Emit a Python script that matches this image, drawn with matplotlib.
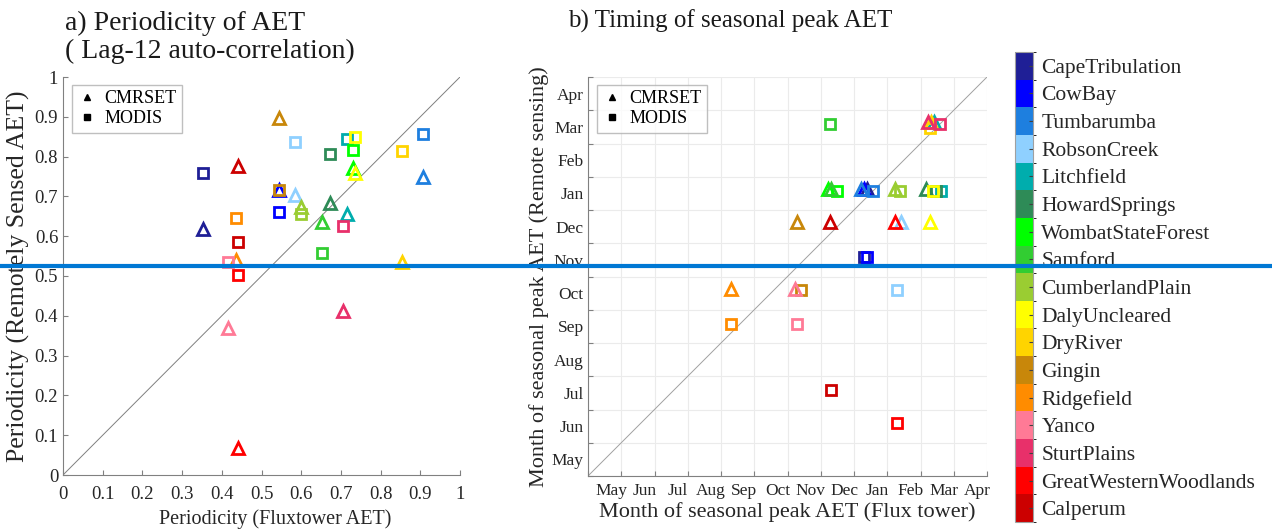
import matplotlib
matplotlib.use('Agg')
import matplotlib.pyplot as plt
import numpy as np
from matplotlib.colors import ListedColormap, BoundaryNorm
from matplotlib.cm import ScalarMappable
from matplotlib.lines import Line2D

plt.rcParams['font.family'] = ['Liberation Serif', 'DejaVu Serif']

sites = ['CapeTribulation', 'CowBay', 'Tumbarumba', 'RobsonCreek', 'Litchfield',
         'HowardSprings', 'WombatStateForest', 'Samford', 'CumberlandPlain',
         'DalyUncleared', 'DryRiver', 'Gingin', 'Ridgefield', 'Yanco',
         'SturtPlains', 'GreatWesternWoodlands', 'Calperum']
colors = ['#1f1f96', '#0000ff', '#1e7fdf', '#8fd0ff', '#00adad',
          '#2e8b57', '#00ff00', '#32cd32', '#9acd32',
          '#ffff00', '#ffd400', '#c8870a', '#ff8c00', '#ff7a96',
          '#e8306a', '#ff0000', '#cc0000']

# a) lag-12 autocorrelation
per_flux = [0.352, 0.544, 0.908, 0.584, 0.716, 0.673, 0.731, 0.653, 0.599,
            0.735, 0.855, 0.545, 0.437, 0.415, 0.706, 0.442, 0.442]
per_cmrset = [0.617, 0.716, 0.748, 0.704, 0.656, 0.684, 0.772, 0.636, 0.674,
              0.758, 0.536, 0.896, 0.540, 0.370, 0.413, 0.067, 0.776]
per_modis = [0.760, 0.660, 0.857, 0.837, 0.843, 0.807, 0.817, 0.559, 0.655,
             0.848, 0.814, 0.716, 0.646, 0.536, 0.626, 0.502, 0.586]

# b) month of seasonal peak (0 = start of May)
peak_flux_cmrset = [8.38, 8.30, 8.20, 9.40, 10.42, 10.18, 7.22, 7.32, 9.23,
                    10.29, 10.32, 6.28, 4.30, 6.23, 10.24, 9.23, 7.28]
peak_cmrset = [8.62, 8.62, 8.62, 7.63, 10.66, 8.62, 8.62, 8.62, 8.62,
               7.63, 10.66, 7.63, 5.62, 5.62, 10.66, 7.63, 7.63]
peak_flux_modis = [8.30, 8.40, 8.57, 9.28, 10.62, 10.48, 7.48, 7.28, 9.38,
                   10.38, 10.28, 6.40, 4.30, 6.28, 10.58, 9.28, 7.30]
peak_modis = [6.58, 6.58, 8.58, 5.58, 8.58, 8.58, 8.58, 10.60, 8.58,
              8.58, 10.47, 5.58, 4.58, 4.58, 10.60, 1.58, 2.58]

months = ['May', 'Jun', 'Jul', 'Aug', 'Sep', 'Oct', 'Nov', 'Dec',
          'Jan', 'Feb', 'Mar', 'Apr']

W, H = 1272, 532
fig = plt.figure(figsize=(W / 100, H / 100), dpi=100)


def style_axes(ax):
    for s in ['top', 'right']:
        ax.spines[s].set_visible(False)
    for s in ['left', 'bottom']:
        ax.spines[s].set_color('#808080')
        ax.spines[s].set_linewidth(0.8)
    ax.tick_params(direction='in', color='#808080', labelcolor='#262626', labelsize=13.5)


def add_legend(ax):
    h = [Line2D([], [], ls='none', marker='^', color='k', markersize=5),
         Line2D([], [], ls='none', marker='s', color='k', markersize=4)]
    lg = ax.legend(h, ['CMRSET', 'MODIS'], loc='upper left', fontsize=13,
                   frameon=True, fancybox=False, edgecolor='#b0b0b0',
                   handlelength=1.0, handletextpad=0.5, borderpad=0.3,
                   labelspacing=0.15, borderaxespad=0,
                   bbox_to_anchor=(0.023, 0.98))
    lg.get_frame().set_linewidth(1.0)


# ---- panel a
ax1 = fig.add_axes([63 / W, 1 - 475 / H, 397 / W, 398 / H])
style_axes(ax1)
ax1.plot([0, 1], [0, 1], color='#7f7f7f', lw=0.7)
for i in range(len(sites)):
    ax1.plot(per_flux[i], per_modis[i], ls='none', marker='s', markersize=7,
             mfc='none', mec=colors[i], mew=2)
    ax1.plot(per_flux[i], per_cmrset[i], ls='none', marker='^', markersize=9,
             mfc='none', mec=colors[i], mew=2)
ax1.set_xlim(0, 1)
ax1.set_ylim(0, 1)
ax1.set_xticks(np.arange(0, 1.01, 0.1))
ax1.set_yticks(np.arange(0, 1.01, 0.1))
ax1.set_xticklabels(['0', '0.1', '0.2', '0.3', '0.4', '0.5', '0.6', '0.7', '0.8', '0.9', '1'])
ax1.set_yticklabels(['0', '0.1', '0.2', '0.3', '0.4', '0.5', '0.6', '0.7', '0.8', '0.9', '1'])
ax1.tick_params(axis='x', pad=8)
ax1.set_xlabel('Periodicity (Fluxtower AET)', fontsize=14.5, color='#262626')
ax1.xaxis.set_label_coords(0.534, -0.085)
ax1.set_ylabel('Periodicity (Remotely Sensed AET)', fontsize=18.5, color='#262626', labelpad=3)
add_legend(ax1)
fig.text(65 / W, 1 - 30 / H, 'a) Periodicity of AET',
         fontsize=20, va='baseline', ha='left', color='#1a1a1a')
fig.text(65 / W, 1 - 58 / H, '( Lag-12 auto-correlation)',
         fontsize=20, va='baseline', ha='left', color='#1a1a1a')

# ---- panel b
ax2 = fig.add_axes([588 / W, 1 - 476 / H, 399 / W, 399 / H])
style_axes(ax2)
ax2.plot([0, 12], [0, 12], color='#a0a0a0', lw=0.7)
for i in range(len(sites)):
    ax2.plot(peak_flux_modis[i], peak_modis[i], ls='none', marker='s', markersize=7,
             mfc='none', mec=colors[i], mew=2)
    ax2.plot(peak_flux_cmrset[i], peak_cmrset[i], ls='none', marker='^', markersize=9,
             mfc='none', mec=colors[i], mew=2)
ax2.set_xlim(0, 12)
ax2.set_ylim(0, 12)
ax2.set_xticks(np.arange(0, 13))
ax2.set_yticks(np.arange(0, 13))
ax2.set_xticklabels([])
ax2.set_yticklabels([])
ax2.set_xticks(np.arange(12) + 0.7, minor=True)
ax2.set_yticks(np.arange(12) + 0.5, minor=True)
ax2.set_xticklabels(months, minor=True)
ax2.set_yticklabels(months, minor=True)
ax2.tick_params(which='minor', length=0, labelsize=12.5, labelcolor='#262626')
ax2.tick_params(which='minor', axis='y', pad=3)
ax2.tick_params(which='minor', axis='x', pad=5)
ax2.grid(True, which='major', color='#ebebeb', lw=0.8)
ax2.set_axisbelow(True)
ax2.set_xlabel('Month of seasonal peak AET (Flux tower)', fontsize=16, color='#262626', labelpad=2)
ax2.set_ylabel('Month of seasonal peak AET (Remote sensing)', fontsize=16, color='#262626', labelpad=2)
add_legend(ax2)
fig.text(568 / W, 1 - 28 / H, 'b) Timing of seasonal peak AET',
         fontsize=18, va='baseline', ha='left', color='#1a1a1a')

# ---- colour bar of sites
cax = fig.add_axes([1015 / W, 1 - 522 / H, 18 / W, 470 / H])
cmap = ListedColormap(colors[::-1])
norm = BoundaryNorm(np.arange(len(sites) + 1), len(sites))
cb = fig.colorbar(ScalarMappable(norm=norm, cmap=cmap), cax=cax)
cb.set_ticks(np.arange(len(sites)) + 0.5)
cb.set_ticklabels(sites[::-1])
cb.ax.tick_params(labelsize=15.5, direction='in', length=3, color='#404040',
                  labelcolor='#262626', pad=6)
cb.outline.set_edgecolor('#a0a0a0')
cb.outline.set_linewidth(0.8)

# blue horizontal rule across the figure
fig.add_artist(Line2D([0, 1], [1 - 265.5 / H, 1 - 265.5 / H], transform=fig.transFigure,
                      color='#0078d4', lw=3, zorder=10))

fig.savefig('out.png', dpi=100)
